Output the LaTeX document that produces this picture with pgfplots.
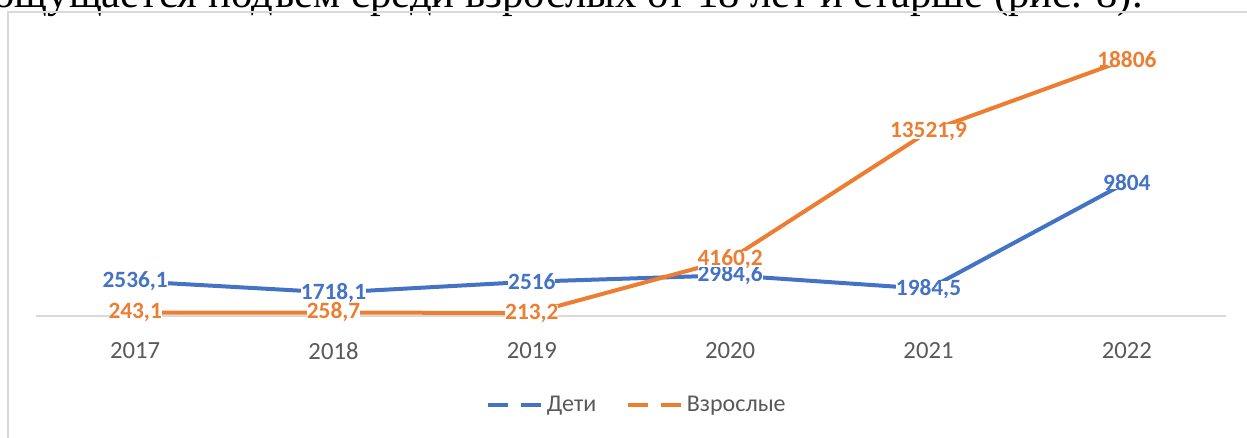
\documentclass[border=0pt]{standalone}
\usepackage{fontspec}
\setmainfont{Carlito}
\newfontfamily\seriffont{Liberation Serif}
\usepackage{pgfplots}
\pgfplotsset{compat=1.18}
\definecolor{cblue}{HTML}{4472C4}
\definecolor{corange}{HTML}{ED7D31}
\definecolor{tgray}{HTML}{595959}
\definecolor{lgray}{HTML}{D9D9D9}
\begin{document}
\begin{tikzpicture}[x=0.75pt,y=0.75pt]
\path[use as bounding box, clip] (0,0) rectangle (1247,437);
% top text (cut off)
\node[anchor=base east, inner sep=0pt, font=\seriffont\fontsize{32}{38}\selectfont] at (1143,429.5) {ощущается подъем среди взрослых от 18 лет и старше (рис. 8).};
% chart frame
\draw[lgray, line width=1.5pt] (8,-20) -- (8,425) -- (1300,425);
\begin{axis}[
  at={(27pt,90.75pt)}, anchor=south west,
  scale only axis, width=892.5pt, height=204.75pt,
  xmin=-0.5, xmax=5.5, ymin=0, ymax=20000,
  clip=false,
  axis x line=bottom, axis y line=none,
  x axis line style={-, draw=lgray, line width=1.1pt},
  ytick=\empty,
  xtick={0,1,2,3,4,5},
  xticklabels={2017,2018,2019,2020,2021,2022},
  major tick length=0pt,
  xticklabel style={font=\fontsize{18.5}{22}\selectfont, text=tgray, inner sep=0pt, yshift=-20pt},
  point meta=explicit symbolic,
  nodes near coords,
  every node near coord/.append style={anchor=center, fill=white, inner xsep=0pt, inner ysep=-1.2pt, font=\bfseries\fontsize{17.5}{21}\selectfont},
  legend columns=2,
  legend style={draw=none, at={(0.505,-0.326)}, anchor=center, font=\fontsize{18}{22}\selectfont, text=tgray,
    /tikz/every even column/.append style={column sep=20pt}},
  legend image code/.code={\draw[#1, line width=3pt, dash pattern=on 15pt off 10pt] (0pt,0pt) -- (41pt,0pt);},
]
\addplot[cblue, line width=3pt, every node near coord/.append style={text=cblue}] table[x=x, y=y, meta=lab] {
x y lab
0 2536.1 2536,1
1 1718.1 1718,1
2 2516 2516
3 2984.6 2984,6
4 1984.5 1984,5
5 9804 9804
};
\addlegendentry{Дети}
\addplot[corange, line width=3pt, every node near coord/.append style={text=corange}] table[x=x, y=y, meta=lab] {
x y lab
0 243.1 243,1
1 258.7 258,7
2 213.2 213,2
3 4160.2 4160,2
4 13521.9 13521,9
5 18806 18806
};
\addlegendentry{Взрослые}
\end{axis}
\end{tikzpicture}
\end{document}
